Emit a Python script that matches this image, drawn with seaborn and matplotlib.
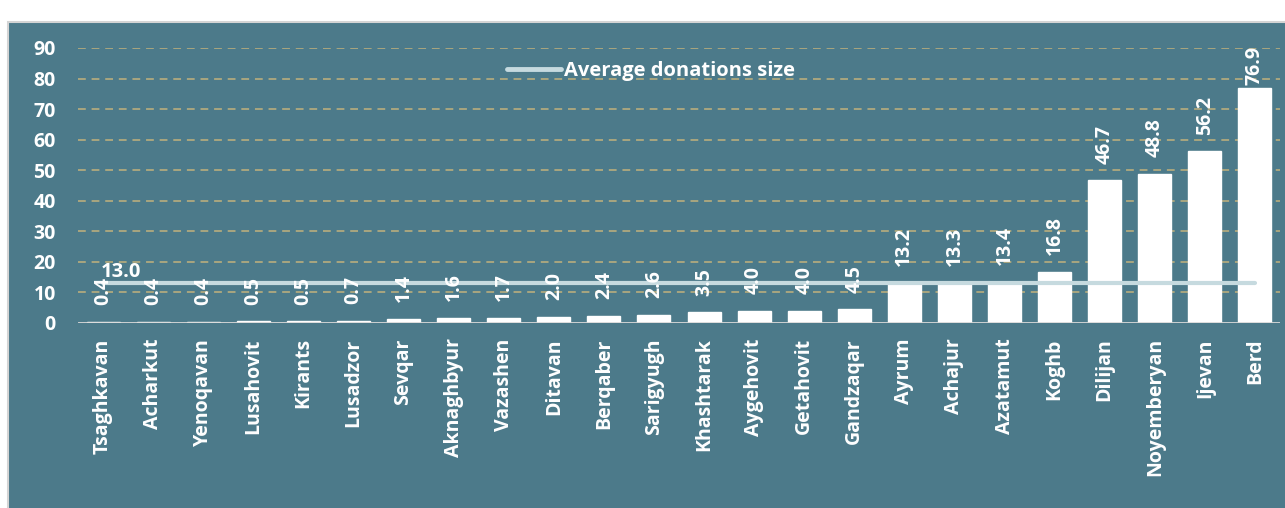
import numpy as np
import pandas as pd
import matplotlib
matplotlib.use("Agg")
import matplotlib.pyplot as plt
from matplotlib.patches import Rectangle
import seaborn as sns

# ----------------------------
# Data
# ----------------------------
communities = ["Tsaghkavan", "Acharkut", "Yenoqavan", "Lusahovit", "Kirants",
               "Lusadzor", "Sevqar", "Aknaghbyur", "Vazashen", "Ditavan",
               "Berqaber", "Sarigyugh", "Khashtarak", "Aygehovit", "Getahovit",
               "Gandzaqar", "Ayrum", "Achajur", "Azatamut", "Koghb", "Dilijan",
               "Noyemberyan", "Ijevan", "Berd"]
donation_size = [0.4, 0.4, 0.4, 0.5, 0.5, 0.7, 1.4, 1.6, 1.7, 2.0, 2.4, 2.6,
                 3.5, 4.0, 4.0, 4.5, 13.2, 13.3, 13.4, 16.8, 46.7, 48.8, 56.2, 76.9]
average_size = 13.0
y_ticks = [0, 10, 20, 30, 40, 50, 60, 70, 80, 90]

df = pd.DataFrame({"community": communities, "size": donation_size})
avg_df = pd.DataFrame({"community": communities,
                       "avg": [average_size] * len(communities)})

# ----------------------------
# Style
# ----------------------------
BG = "#4C7A8A"
GRID = "#A9A67F"
AVG = "#C6DADF"

sns.set_theme(style="white")
plt.rcParams["font.family"] = ["Open Sans", "DejaVu Sans"]

fig = plt.figure(figsize=(12.85, 5.08), dpi=100)
fig.patch.set_facecolor("white")
fig.patches.append(Rectangle((8 / 1285, -0.01), 1.0, (508 - 22) / 508 + 0.01,
                             transform=fig.transFigure, facecolor=BG,
                             edgecolor="#D4D4D4", linewidth=1.5, zorder=-10))

ax = fig.add_axes([78 / 1285, 185 / 508, 1202 / 1285, 275 / 508])
ax.set_facecolor("none")

sns.barplot(data=df, x="community", y="size", color="white", width=0.66,
            saturation=1, ax=ax, zorder=3)
sns.pointplot(data=avg_df, x="community", y="avg", color=AVG, marker="",
              linestyle="-", linewidth=3, ax=ax, zorder=4,
              label="Average donations size")

ax.set_ylim(0, 90)
ax.set_xlim(-0.5, len(communities) - 0.5)
ax.set_yticks(y_ticks)
for t in y_ticks[1:]:
    ax.axhline(t, color=GRID, linestyle=(0, (4, 3)), linewidth=1.4, zorder=1)
ax.axhline(0, color="#D9D9D9", linewidth=2, zorder=5)

for s in ax.spines.values():
    s.set_visible(False)
ax.tick_params(axis="both", length=0, colors="white")
ax.tick_params(axis="y", pad=16)
ax.tick_params(axis="x", pad=11)
ax.set_xlabel("")
ax.set_ylabel("")
for lab in ax.get_yticklabels():
    lab.set_fontsize(14)
    lab.set_fontweight("bold")
for lab in ax.get_xticklabels():
    lab.set_fontsize(14)
    lab.set_fontweight("bold")
    lab.set_rotation(90)
    lab.set_va("top")

# value labels
for i, v in enumerate(donation_size):
    off = 12 if v < 70 else 2
    ax.annotate(f"{v:.1f}", (i, v), xytext=(0, off), textcoords="offset points",
                rotation=90, ha="center", va="bottom", color="white",
                fontsize=14, fontweight="bold", zorder=6)

ax.annotate(f"{average_size:.1f}", (0, average_size), xytext=(-2, 1),
            textcoords="offset points", ha="left", va="bottom", color="white",
            fontsize=14.5, fontweight="bold", zorder=6)

leg = ax.legend(loc="center", bbox_to_anchor=(651 / 1285, 437 / 508),
                bbox_transform=fig.transFigure, frameon=False,
                handlelength=2.7, handletextpad=0.15,
                prop={"size": 14.5, "weight": "bold"})
for t in leg.get_texts():
    t.set_color("white")
for h in leg.get_lines():
    h.set_linewidth(3.5)

fig.savefig("out.png", dpi=100, facecolor=fig.get_facecolor())
